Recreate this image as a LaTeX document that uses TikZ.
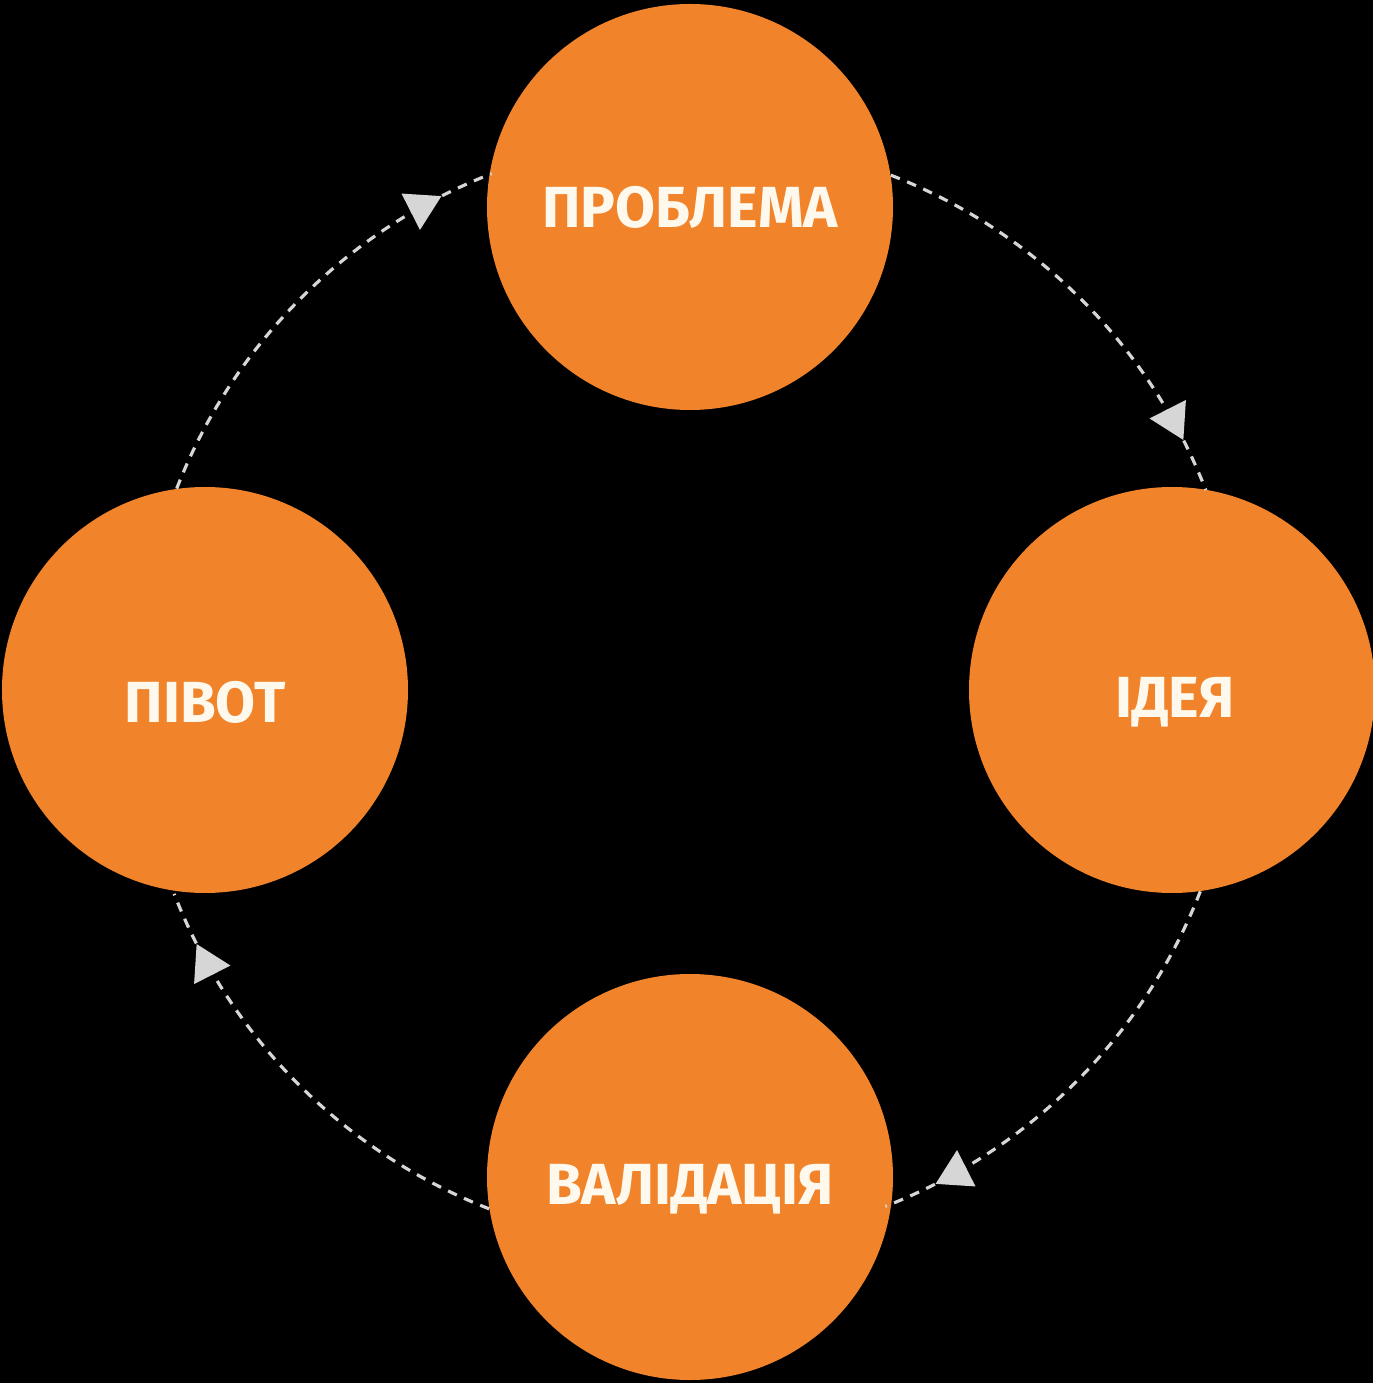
\documentclass[tikz,border=0pt]{standalone}
\usepackage{fontspec}
\setmainfont{Fira Sans}
\usetikzlibrary{arrows.meta,decorations.markings}
\definecolor{stageorange}{RGB}{241,131,42}
\definecolor{stagetext}{HTML}{FFF8EC}
\definecolor{dashgray}{HTML}{D6D6D6}
\definecolor{tipgray}{HTML}{B4B4B4}
\newcommand{\lowtext}[1]{\raisebox{-0.24cm}[\height][\depth]{#1}}
\begin{document}
\begin{tikzpicture}[
			stagenode/.style={circle, fill=stageorange, minimum size=8.12cm, inner sep=0pt, text=stagetext, font=\fontsize{33}{40}\selectfont\bfseries},
			flow/.style={dashgray, line width=1.8pt, dash pattern=on 5.5pt off 4.5pt,
				postaction={decorate, decoration={markings, mark=at position 0.88 with {\arrow[solid, draw=none, fill=tipgray]{Triangle[length=6.9mm, width=8mm]}}}}},
		]
		
			%Background
			\fill[black] (-13.8,-13.86) rectangle (13.66,13.8);
			\useasboundingbox (-13.8,-13.86) rectangle (13.66,13.8);
		
			%Nodes
			\node[stagenode]	(problem)		at (0,9.66)		{ПРОБЛЕМА};
			\node[stagenode]	(idea)			at (9.64,0)		{\lowtext{\hspace*{0.12cm}ІДЕЯ}};
			\node[stagenode]	(validation)	at (0,-9.74)	{\lowtext{ВАЛІДАЦІЯ}};
			\node[stagenode]	(pivot)			at (-9.7,0)		{\lowtext{ПІВОТ}};
		
			%Lines
			\draw[flow]	(pivot.98)		arc[start angle=158.75, end angle=111.25, radius=11.06cm];
			\draw[flow]	(problem.9)		arc[start angle=68.75, end angle=21.25, radius=11.06cm];
			\draw[flow]	(idea.-82)		arc[start angle=-21.25, end angle=-68.75, radius=11.06cm];
			\draw[flow]	(validation.189)	arc[start angle=-111.25, end angle=-158.75, radius=11.06cm];
		
		\end{tikzpicture}
\end{document}
